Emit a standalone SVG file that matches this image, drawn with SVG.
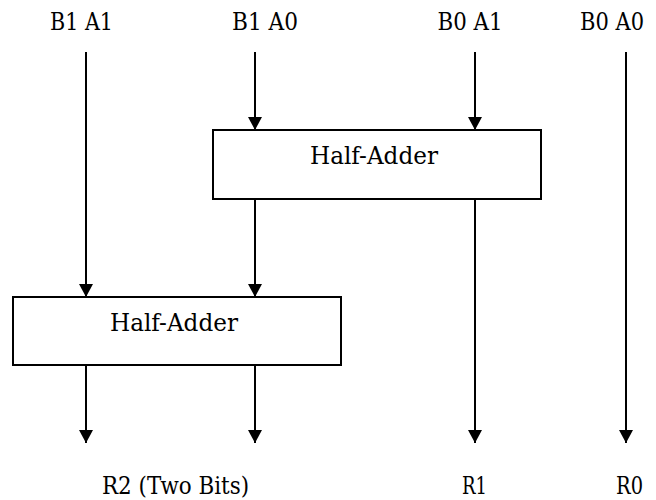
<svg xmlns="http://www.w3.org/2000/svg" width="656" height="500" viewBox="0 0 656 500">
<style>
text{font-family:"DejaVu Serif","Liberation Serif",serif;font-size:24px;fill:#000;text-anchor:middle}
.box{fill:#fff;stroke:#000;stroke-width:2}
.wire{stroke:#000;stroke-width:2;fill:none}
</style>
<defs>
<marker id="arr" markerUnits="userSpaceOnUse" markerWidth="14" markerHeight="14" refX="12" refY="6.5" orient="auto" viewBox="0 0 12 13">
<path d="M0,0 L12,6.5 L0,13 Z" fill="#000"/>
</marker>
</defs>
<rect width="656" height="500" fill="#fff"/>
<g id="labels-top">
<text x="81.5" y="30" textLength="63" lengthAdjust="spacingAndGlyphs">B1 A1</text>
<text x="265" y="30" textLength="66" lengthAdjust="spacingAndGlyphs">B1 A0</text>
<text x="470" y="30" textLength="65" lengthAdjust="spacingAndGlyphs">B0 A1</text>
<text x="612" y="30" textLength="64" lengthAdjust="spacingAndGlyphs">B0 A0</text>
</g>
<g id="ha1">
<rect class="box" x="213" y="130" width="328" height="69"/>
<text x="374" y="164" textLength="128" lengthAdjust="spacingAndGlyphs">Half-Adder</text>
</g>
<g id="ha2">
<rect class="box" x="13" y="297" width="328" height="68"/>
<text x="174" y="331" textLength="128" lengthAdjust="spacingAndGlyphs">Half-Adder</text>
</g>
<g id="connectors">
<line class="wire" x1="255" y1="52" x2="255" y2="130" marker-end="url(#arr)"/>
<line class="wire" x1="475" y1="52" x2="475" y2="130" marker-end="url(#arr)"/>
<line class="wire" x1="86" y1="52" x2="86" y2="297" marker-end="url(#arr)"/>
<line class="wire" x1="255" y1="199" x2="255" y2="297" marker-end="url(#arr)"/>
<line class="wire" x1="475" y1="199" x2="475" y2="443" marker-end="url(#arr)"/>
<line class="wire" x1="626" y1="52" x2="626" y2="443" marker-end="url(#arr)"/>
<line class="wire" x1="86" y1="365" x2="86" y2="443" marker-end="url(#arr)"/>
<line class="wire" x1="255" y1="365" x2="255" y2="443" marker-end="url(#arr)"/>
</g>
<g id="labels-bottom">
<text x="175.5" y="494" textLength="147" lengthAdjust="spacingAndGlyphs">R2 (Two Bits)</text>
<text x="474.5" y="494" textLength="25" lengthAdjust="spacingAndGlyphs">R1</text>
<text x="629.5" y="494" textLength="27" lengthAdjust="spacingAndGlyphs">R0</text>
</g>
</svg>
